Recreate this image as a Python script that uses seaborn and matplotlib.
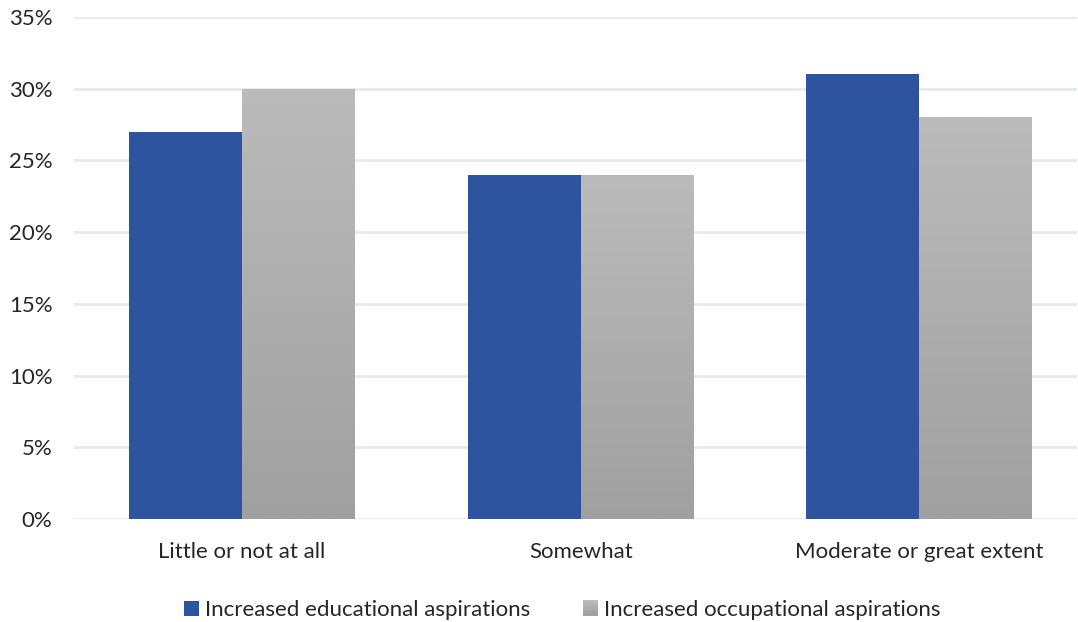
import numpy as np
import pandas as pd
import matplotlib
matplotlib.use("Agg")
import matplotlib.pyplot as plt
from matplotlib.patches import Rectangle
from matplotlib.legend_handler import HandlerBase
from matplotlib.colors import LinearSegmentedColormap
import seaborn as sns

categories = ["Little or not at all", "Somewhat", "Moderate or great extent"]
educational = [27, 24, 31]
occupational = [30, 24, 28]
series_names = ["Increased educational aspirations", "Increased occupational aspirations"]
y_ticks = [0, 5, 10, 15, 20, 25, 30, 35]

BLUE = "#2E539F"
GRAY_TOP = "#BBBBBB"
GRAY_BOTTOM = "#A0A0A1"
TEXT = "#262626"
GRID = "#E6E9EF"
FS = 16

df = pd.DataFrame({
    "category": categories * 2,
    "series": [series_names[0]] * 3 + [series_names[1]] * 3,
    "value": educational + occupational,
})

sns.set_theme(style="white")
plt.rcParams["font.family"] = ["Lato", "DejaVu Sans"]

fig = plt.figure(figsize=(10.78, 6.22), dpi=100)
ax = fig.add_axes([0.0686, 0.1656, 0.9304, 0.8071])

sns.barplot(data=df, x="category", y="value", hue="series", order=categories,
            hue_order=series_names, palette=[BLUE, GRAY_TOP], width=0.667,
            saturation=1, linewidth=0, ax=ax, legend=False, zorder=3)

# vertical gradient fill for the grey series
grad_cmap = LinearSegmentedColormap.from_list("g", [GRAY_BOTTOM, GRAY_TOP])
grad = np.linspace(0, 1, 256).reshape(-1, 1)
gray_bars = [p for p in ax.patches if matplotlib.colors.to_hex(p.get_facecolor()) == GRAY_TOP.lower()]
for p in gray_bars:
    x0, y0 = p.get_x(), p.get_y()
    w, h = p.get_width(), p.get_height()
    im = ax.imshow(grad, cmap=grad_cmap, origin="lower", aspect="auto",
                   extent=[x0, x0 + w, y0, y0 + h], zorder=3.1, interpolation="bilinear")
    im.set_clip_path(p)
    p.set_alpha(0)

ax.set_xlim(-0.496, 2.465)
ax.set_ylim(0, 35)
ax.set_yticks(y_ticks)
ax.set_yticklabels([f"{t}%" for t in y_ticks])
ax.yaxis.grid(True, color=GRID, linewidth=2, zorder=0)
ax.set_axisbelow(True)
for s in ax.spines.values():
    s.set_visible(False)
ax.tick_params(axis="y", length=0, pad=15.5, labelsize=FS, labelcolor=TEXT)
ax.tick_params(axis="x", length=0, pad=16.5, labelsize=FS, labelcolor=TEXT)
ax.set_xlabel("")
ax.set_ylabel("")


class GradientHandler(HandlerBase):
    def create_artists(self, legend, orig_handle, xdescent, ydescent, width, height, fontsize, trans):
        n = 8
        side = height * 0.95
        x = (width - side) / 2
        arts = []
        for i in range(n):
            c = grad_cmap(1 - i / (n - 1))
            r = Rectangle((x, -ydescent + side - (i + 1) * side / n), side, side / n + 0.3,
                          facecolor=c, edgecolor="none", transform=trans)
            arts.append(r)
        return arts


class SquareHandler(HandlerBase):
    def create_artists(self, legend, orig_handle, xdescent, ydescent, width, height, fontsize, trans):
        side = height * 0.95
        return [Rectangle(((width - side) / 2, -ydescent), side, side,
                          facecolor=BLUE, edgecolor="none", transform=trans)]


h_blue = Rectangle((0, 0), 1, 1, facecolor=BLUE)
h_gray = Rectangle((0, 0), 1, 1, facecolor=GRAY_TOP)
fig.legend([h_blue, h_gray], series_names, loc="center", bbox_to_anchor=(0.521, 0.02),
           ncol=2, frameon=False, fontsize=FS, labelcolor=TEXT,
           handler_map={h_blue: SquareHandler(), h_gray: GradientHandler()},
           handlelength=0.8, handletextpad=0.2, columnspacing=2.3)

fig.savefig("out.png", dpi=100)
